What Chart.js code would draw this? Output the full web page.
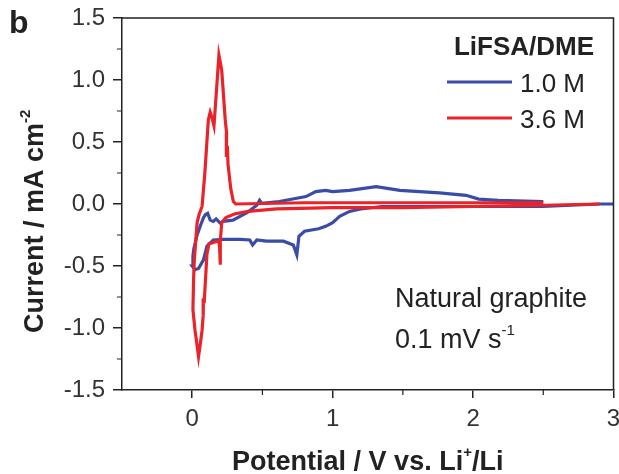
<!DOCTYPE html>
<html>
<head>
<meta charset="utf-8">
<script src="https://cdn.jsdelivr.net/npm/chart.js@4/dist/chart.umd.min.js"></script>
<style>
  html, body { margin: 0; padding: 0; background: #fff; }
  #wrap { width: 619px; height: 474px; position: relative; }
</style>
</head>
<body>
<div id="wrap"><canvas id="c" width="619" height="474"></canvas></div>
<script>
// ---- Data ----
const seriesNames = ["1.0 M", "3.6 M"];
const legendTitle = "LiFSA/DME";

// 1.0 M LiFSA/DME (blue)
const blueV = [3.0, 2.9, 2.5, 2.0, 1.6, 1.35, 1.2, 1.12, 1.05, 1.0, 0.95, 0.9, 0.8, 0.76, 0.745, 0.72, 0.65, 0.53, 0.46, 0.43, 0.41, 0.34, 0.22, 0.15, 0.105, 0.08, 0.045, 0.02, 0.0,
               0.005, 0.012, 0.035, 0.057, 0.08, 0.095, 0.11, 0.128, 0.15, 0.17, 0.2, 0.22, 0.29, 0.39, 0.46, 0.48, 0.495, 0.62, 0.81, 0.88, 0.95, 1.0, 1.12, 1.31, 1.48, 1.76, 1.95, 2.04, 2.18, 2.5];
const blueI = [0.0, 0.0, -0.02, -0.02, -0.02, -0.02, -0.04, -0.06, -0.10, -0.15, -0.18, -0.20, -0.22, -0.26, -0.41, -0.33, -0.30, -0.30, -0.29, -0.33, -0.29, -0.285, -0.285, -0.29, -0.34, -0.45, -0.52, -0.53, -0.50,
               -0.42, -0.36, -0.25, -0.18, -0.11, -0.085, -0.075, -0.13, -0.14, -0.12, -0.155, -0.14, -0.13, -0.07, -0.01, 0.03, 0.005, 0.02, 0.06, 0.10, 0.11, 0.10, 0.11, 0.14, 0.11, 0.09, 0.07, 0.04, 0.03, 0.02];

// 3.6 M LiFSA/DME (red)
const redV = [2.9, 2.5, 2.0, 1.5, 1.0, 0.6, 0.4, 0.3, 0.24, 0.21, 0.2, 0.2, 0.195, 0.19, 0.175, 0.15, 0.12, 0.105, 0.095, 0.085, 0.08, 0.078, 0.07, 0.055, 0.045, 0.03, 0.02, 0.005,
              0.01, 0.015, 0.025, 0.035, 0.05, 0.07, 0.09, 0.115, 0.128, 0.14, 0.155, 0.175, 0.19, 0.21, 0.235, 0.245, 0.243, 0.25, 0.255, 0.275, 0.293, 0.31, 0.8, 1.5, 2.0, 2.5];
const redI = [0.0, -0.01, -0.02, -0.03, -0.03, -0.04, -0.06, -0.08, -0.11, -0.15, -0.30, -0.49, -0.35, -0.31, -0.30, -0.31, -0.32, -0.40, -0.60, -0.80, -0.76, -0.90, -1.02, -1.15, -1.23, -1.10, -1.02, -0.85,
              -0.60, -0.45, -0.30, -0.15, -0.08, -0.02, 0.25, 0.68, 0.74, 0.70, 0.63, 0.95, 1.20, 1.08, 0.68, 0.57, 0.38, 0.47, 0.32, 0.12, 0.02, 0.0, 0.01, 0.01, 0.01, 0.01];

const xTickValues = [0, 1, 2, 3];
const yTickValues = [-1.5, -1.0, -0.5, 0.0, 0.5, 1.0, 1.5];
const xMinorValues = [0.5, 1.5, 2.5];
const yMinorValues = [-1.25, -0.75, -0.25, 0.25, 0.75, 1.25];

const toPts = (xs, ys) => xs.map((v, i) => ({ x: v, y: ys[i] }));

const BLUE = '#3a4ca6';
const RED = '#e8232a';
const AXIS = '#222';
const FONT = '"Liberation Sans", Arial, sans-serif';

function drawSupText(ctx, parts, x, y, align) {
  let total = 0;
  parts.forEach(p => { ctx.font = p.font; p.w = ctx.measureText(p.t).width; total += p.w; });
  let cx = align === 'center' ? x - total / 2 : (align === 'right' ? x - total : x);
  ctx.textAlign = 'left';
  parts.forEach(p => { ctx.font = p.font; ctx.fillText(p.t, cx, y + (p.dy || 0)); cx += p.w; });
}

const deco = {
  id: 'deco',
  afterDraw(chart) {
    const { ctx, chartArea: a, scales: { x, y } } = chart;
    ctx.save();
    ctx.strokeStyle = AXIS;
    ctx.lineWidth = 1.5;
    ctx.beginPath();
    ctx.moveTo(a.left, a.top);
    ctx.lineTo(a.right, a.top);
    ctx.lineTo(a.right, a.bottom);
    ctx.stroke();
    ctx.lineWidth = 1.2;
    ctx.beginPath();
    xMinorValues.forEach(v => { const px = x.getPixelForValue(v); ctx.moveTo(px, a.bottom); ctx.lineTo(px, a.bottom + 5); });
    yMinorValues.forEach(v => { const py = y.getPixelForValue(v); ctx.moveTo(a.left - 5, py); ctx.lineTo(a.left, py); });
    ctx.stroke();

    ctx.fillStyle = '#222';
    ctx.textBaseline = 'alphabetic';
    ctx.font = 'bold 32px ' + FONT;
    ctx.textAlign = 'left';
    ctx.fillText('b', 9, 33);

    ctx.font = 'bold 26px ' + FONT;
    ctx.textAlign = 'right';
    ctx.fillText(legendTitle, 594, 55);
    ctx.lineWidth = 3;
    ctx.strokeStyle = BLUE;
    ctx.beginPath(); ctx.moveTo(447, 82); ctx.lineTo(512, 82); ctx.stroke();
    ctx.strokeStyle = RED;
    ctx.beginPath(); ctx.moveTo(447, 118); ctx.lineTo(512, 118); ctx.stroke();
    ctx.font = '26px ' + FONT;
    ctx.textAlign = 'left';
    ctx.fillText(seriesNames[0], 520, 92);
    ctx.fillText(seriesNames[1], 520, 128);

    ctx.font = '27px ' + FONT;
    ctx.fillText('Natural graphite', 395, 307);
    drawSupText(ctx, [
      { t: '0.1 mV s', font: '27px ' + FONT },
      { t: '-1', font: '15px ' + FONT, dy: -13 }
    ], 395, 348, 'left');

    const xb = 'bold 27px ' + FONT;
    drawSupText(ctx, [
      { t: 'Potential / V vs. Li', font: xb },
      { t: '+', font: 'bold 15px ' + FONT, dy: -13 },
      { t: '/Li', font: xb }
    ], (a.left + a.right) / 2, 470, 'center');

    ctx.save();
    ctx.translate(43, 333);
    ctx.rotate(-Math.PI / 2);
    drawSupText(ctx, [
      { t: 'Current / mA cm', font: 'bold 27px ' + FONT },
      { t: '-2', font: 'bold 15px ' + FONT, dy: -13 }
    ], 0, 0, 'left');
    ctx.restore();

    ctx.restore();
  }
};

new Chart(document.getElementById('c'), {
  type: 'scatter',
  data: {
    datasets: [
      { label: seriesNames[0], data: toPts(blueV, blueI), showLine: true, borderColor: BLUE, backgroundColor: BLUE,
        borderWidth: 3.2, pointRadius: 0, tension: 0, order: 2 },
      { label: seriesNames[1], data: toPts(redV, redI), showLine: true, borderColor: RED, backgroundColor: RED,
        borderWidth: 3.2, pointRadius: 0, tension: 0, order: 1 }
    ]
  },
  options: {
    responsive: false,
    devicePixelRatio: 1,
    animation: false,
    layout: { padding: { left: 0, top: 18, right: 5.5, bottom: 0 } },
    plugins: { legend: { display: false }, tooltip: { enabled: false } },
    scales: {
      x: {
        type: 'linear', min: -0.5, max: 3,
        afterBuildTicks: s => { s.ticks = xTickValues.map(v => ({ value: v })); },
        afterFit: s => { s.height = 84; s.paddingLeft = 0; s.paddingRight = 0; },
        ticks: { color: '#333', font: { family: FONT, size: 24 }, padding: 7, maxRotation: 0, autoSkip: false,
                 callback: v => String(v) },
        grid: { display: true, drawOnChartArea: false, drawTicks: true, tickLength: 8, color: AXIS, lineWidth: 1.5 },
        border: { display: true, color: AXIS, width: 1.5 }
      },
      y: {
        type: 'linear', min: -1.5, max: 1.5,
        afterBuildTicks: s => { s.ticks = yTickValues.map(v => ({ value: v })); },
        afterFit: s => { s.width = 122; s.paddingTop = 0; s.paddingBottom = 0; },
        ticks: { color: '#333', font: { family: FONT, size: 24 }, padding: 8, autoSkip: false,
                 callback: v => Number(v).toFixed(1) },
        grid: { display: true, drawOnChartArea: false, drawTicks: true, tickLength: 9, color: AXIS, lineWidth: 1.5 },
        border: { display: true, color: AXIS, width: 1.5 }
      }
    }
  },
  plugins: [deco]
});
</script>
</body>
</html>
